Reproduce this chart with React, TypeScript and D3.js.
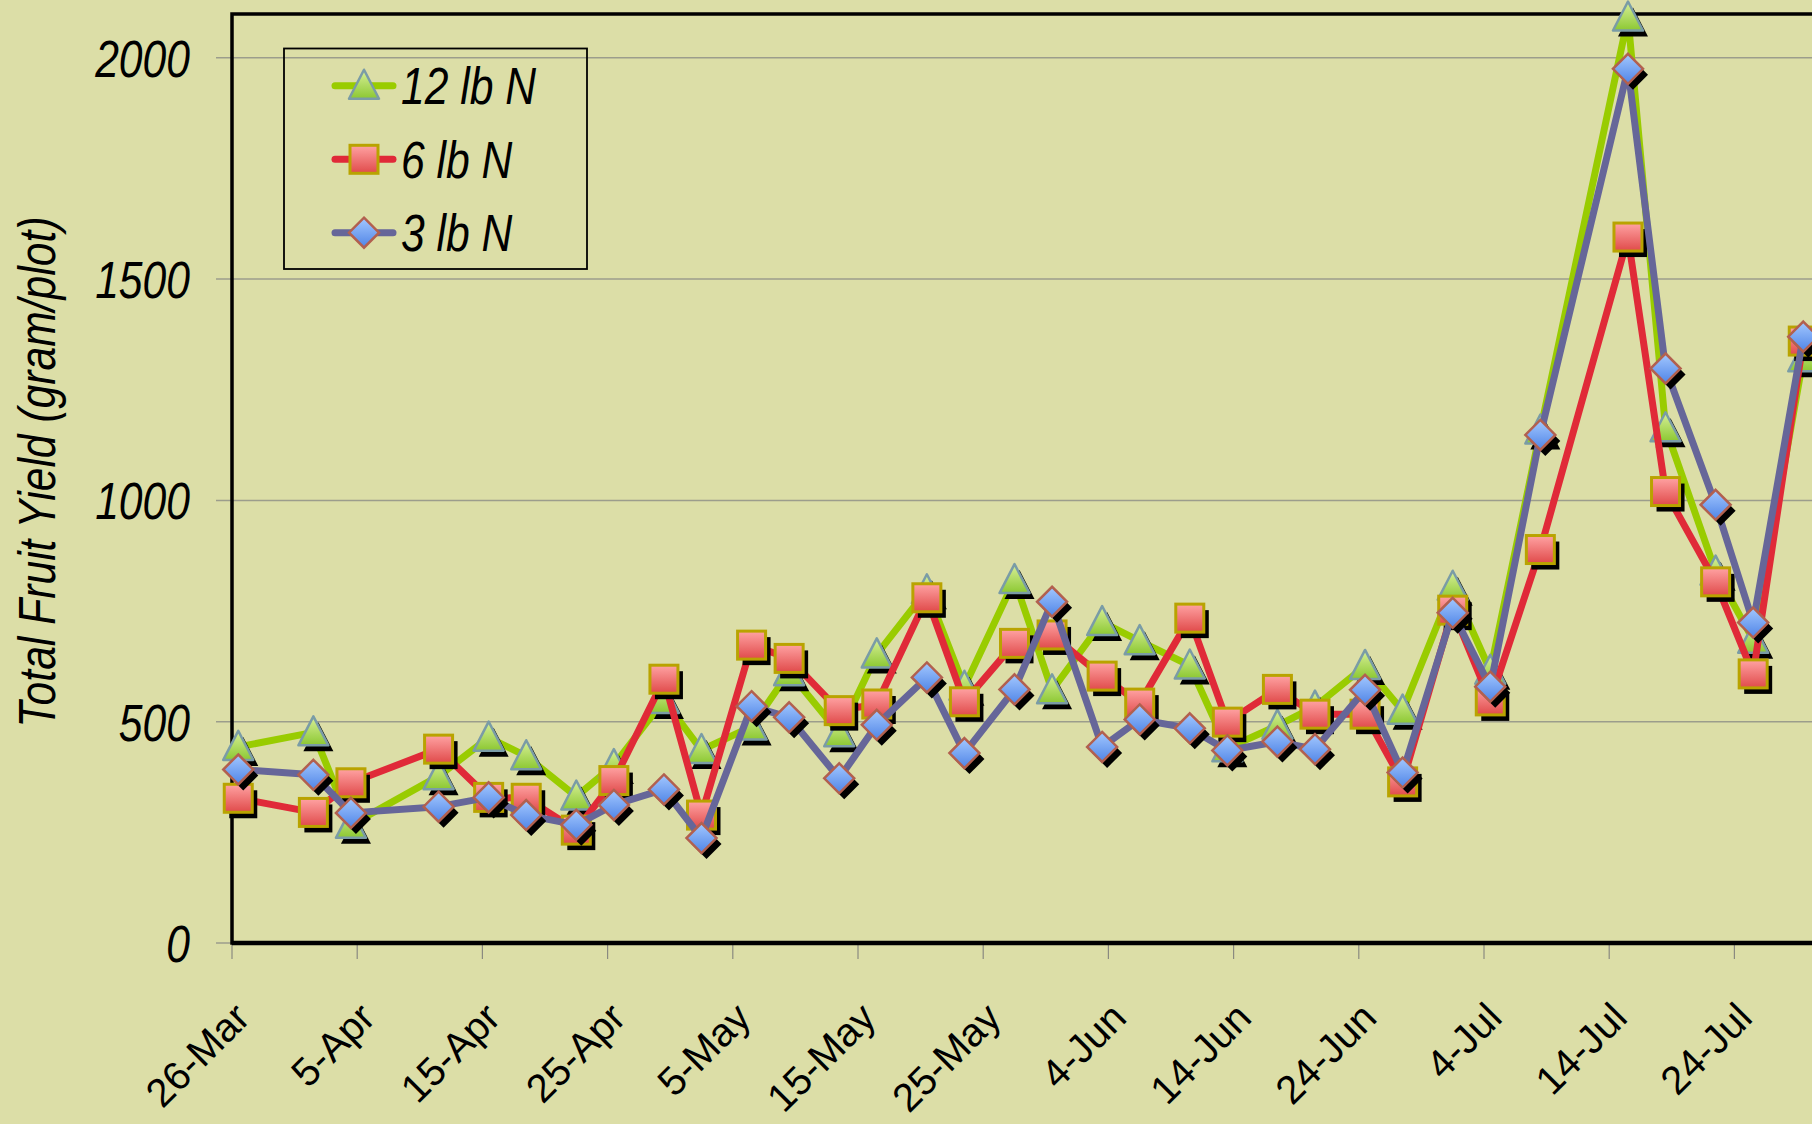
import { useEffect, useRef } from 'react';
import * as d3 from 'd3';

// harvest dates (plotted in the middle of each day, Excel date axis style)
const dates = [
  '2008-03-26', '2008-04-01', '2008-04-04', '2008-04-11', '2008-04-15', '2008-04-18',
  '2008-04-22', '2008-04-25', '2008-04-29', '2008-05-02', '2008-05-06', '2008-05-09',
  '2008-05-13', '2008-05-16', '2008-05-20', '2008-05-23', '2008-05-27', '2008-05-30',
  '2008-06-03', '2008-06-06', '2008-06-10', '2008-06-13', '2008-06-17', '2008-06-20',
  '2008-06-24', '2008-06-27', '2008-07-01', '2008-07-04', '2008-07-08', '2008-07-15',
  '2008-07-18', '2008-07-22', '2008-07-25', '2008-07-29',
];

const yield12 = [
  443, 476, 267, 377, 464, 422, 331, 402, 549, 436, 489, 612,
  474, 652, 797, 579, 820, 571, 725, 682, 627, 440, 491, 534,
  626, 525, 805, 615, 1158, 2091, 1163, 839, 685, 1321,
];
const yield6 = [
  327, 295, 362, 438, 329, 327, 255, 367, 596, 289, 673, 643,
  525, 540, 780, 545, 677, 696, 603, 542, 734, 499, 573, 517,
  517, 364, 752, 547, 889, 1595, 1020, 816, 608, 1360,
];
const yield3 = [
  392, 380, 294, 308, 329, 289, 267, 312, 347, 237, 535, 510,
  372, 493, 600, 429, 573, 771, 443, 505, 485, 435, 455, 438,
  572, 385, 746, 579, 1148, 1975, 1298, 990, 724, 1370,
];

const seriesNames = ['12 lb N', '6 lb N', '3 lb N'];
const yTicks = [0, 500, 1000, 1500, 2000];
const xTickDates = [
  '2008-03-26', '2008-04-05', '2008-04-15', '2008-04-25', '2008-05-05', '2008-05-15',
  '2008-05-25', '2008-06-04', '2008-06-14', '2008-06-24', '2008-07-04', '2008-07-14',
  '2008-07-24',
];

type Shape = 'triangle' | 'square' | 'diamond';

export default function App() {
  const ref = useRef<SVGSVGElement>(null);

  useEffect(() => {
    if (!ref.current) return;
    const svg = d3.select(ref.current);
    svg.selectAll('*').remove();

    const W = 1812;
    const H = 1124;
    const left = 232;
    const top = 14;
    const bottom = 943;
    const pxPerDay = 12.52;
    const bg = '#dcdea7';
    const narrow = 0.82;
    const font = "'Liberation Sans', Arial, sans-serif";

    const parse = d3.utcParse('%Y-%m-%d');
    const start = parse('2008-03-26') as Date;
    const end = d3.utcDay.offset(start, 130);

    const x = d3.scaleUtc().domain([start, end]).range([left, left + 130 * pxPerDay]);
    const y = d3.scaleLinear().domain([0, 2000]).range([bottom, 57.8]);
    const xMid = (s: string) => x(d3.utcHour.offset(parse(s) as Date, 12));

    svg.append('rect').attr('width', W).attr('height', H).attr('fill', bg);

    // gradients
    const defs = svg.append('defs');
    const grad = (id: string, c1: string, c2: string) => {
      const lg = defs.append('linearGradient').attr('id', id)
        .attr('x1', 0).attr('y1', 0).attr('x2', 0).attr('y2', 1);
      lg.append('stop').attr('offset', '0%').attr('stop-color', c1);
      lg.append('stop').attr('offset', '100%').attr('stop-color', c2);
    };
    grad('gTri', '#d9f09a', '#8cc832');
    grad('gSq', '#ffa3a3', '#e04a4a');
    grad('gDia', '#a3c8ff', '#4f84e6');

    // gridlines + y ticks
    svg.append('g').selectAll('line').data(yTicks).join('line')
      .attr('x1', 216).attr('x2', W)
      .attr('y1', d => y(d)).attr('y2', d => y(d))
      .attr('stroke', '#9c9d8c').attr('stroke-width', 1.5);

    svg.append('g').selectAll('text').data(yTicks).join('text')
      .attr('transform', d => `translate(190,${y(d) + 19}) scale(${narrow},1)`)
      .attr('text-anchor', 'end')
      .attr('font-family', font).attr('font-style', 'italic').attr('font-size', 52)
      .attr('fill', '#000')
      .text(d => String(d));

    // x ticks and labels
    const fmt = d3.utcFormat('%-d-%b');
    const xt = svg.append('g');
    xTickDates.forEach(s => {
      const tx = x(parse(s) as Date);
      xt.append('line').attr('x1', tx).attr('x2', tx).attr('y1', bottom).attr('y2', bottom + 16)
        .attr('stroke', '#8a8a80').attr('stroke-width', 1.2);
      xt.append('text')
        .attr('transform', `translate(${tx + 20},1020) rotate(-45)`)
        .attr('text-anchor', 'end')
        .attr('font-family', font).attr('font-size', 40).attr('fill', '#000')
        .text(fmt(parse(s) as Date));
    });

    // y axis title
    svg.append('text')
      .attr('transform', `translate(55,472) rotate(-90) scale(${narrow},1)`)
      .attr('text-anchor', 'middle')
      .attr('font-family', font).attr('font-style', 'italic').attr('font-size', 52)
      .attr('fill', '#000')
      .text('Total Fruit Yield (gram/plot)');

    // plot frame
    svg.append('rect').attr('x', left).attr('y', top).attr('width', W).attr('height', bottom - top)
      .attr('fill', 'none').attr('stroke', '#000').attr('stroke-width', 3.5);
    svg.append('line').attr('x1', left).attr('x2', W).attr('y1', bottom).attr('y2', bottom)
      .attr('stroke', '#000').attr('stroke-width', 4.5);

    const drawMarker = (g: any, shape: Shape, cx: number, cy: number, shadow: boolean) => {
      let el;
      if (shape === 'square') {
        el = g.append('rect').attr('x', cx - 14).attr('y', cy - 14).attr('width', 28).attr('height', 28);
      } else if (shape === 'triangle') {
        el = g.append('path').attr('d', `M${cx},${cy - 16}L${cx + 15},${cy + 13}L${cx - 15},${cy + 13}Z`);
      } else {
        el = g.append('path').attr('d', `M${cx},${cy - 15}L${cx + 15},${cy}L${cx},${cy + 15}L${cx - 15},${cy}Z`);
      }
      if (shadow) {
        el.attr('fill', '#000').attr('transform', 'translate(5,6)');
        return;
      }
      if (shape === 'square') el.attr('fill', 'url(#gSq)').attr('stroke', '#b9a300').attr('stroke-width', 3);
      if (shape === 'triangle') el.attr('fill', 'url(#gTri)').attr('stroke', '#7a9ca6').attr('stroke-width', 2.5)
        .attr('stroke-linejoin', 'round');
      if (shape === 'diamond') el.attr('fill', 'url(#gDia)').attr('stroke', '#b2604f').attr('stroke-width', 2.5);
    };

    const series = [
      { name: seriesNames[0], values: yield12, color: '#99cc00', shape: 'triangle' as Shape },
      { name: seriesNames[1], values: yield6, color: '#e02a38', shape: 'square' as Shape },
      { name: seriesNames[2], values: yield3, color: '#666699', shape: 'diamond' as Shape },
    ];

    const line = d3.line<number>()
      .x((_, i) => xMid(dates[i]))
      .y(d => y(d));

    series.forEach(s => {
      const g = svg.append('g');
      g.append('path').datum(s.values).attr('d', line)
        .attr('fill', 'none').attr('stroke', s.color).attr('stroke-width', 7)
        .attr('stroke-linejoin', 'round');
      s.values.forEach((v, i) => drawMarker(g, s.shape, xMid(dates[i]), y(v), true));
      s.values.forEach((v, i) => drawMarker(g, s.shape, xMid(dates[i]), y(v), false));
    });

    // legend
    const lg = svg.append('g');
    lg.append('rect').attr('x', 284).attr('y', 48.5).attr('width', 303).attr('height', 220.5)
      .attr('fill', 'none').attr('stroke', '#000').attr('stroke-width', 1.8);
    const rowY = [85.7, 159.3, 232.7];
    series.forEach((s, i) => {
      lg.append('line').attr('x1', 335).attr('x2', 393).attr('y1', rowY[i]).attr('y2', rowY[i])
        .attr('stroke', s.color).attr('stroke-width', 7).attr('stroke-linecap', 'round');
      drawMarker(lg, s.shape, 364, rowY[i], false);
      lg.append('text')
        .attr('transform', `translate(401,${rowY[i] + 18.5}) scale(${narrow},1)`)
        .attr('font-family', font).attr('font-style', 'italic').attr('font-size', 52)
        .attr('fill', '#000')
        .text(s.name);
    });
  }, []);

  return (
    <svg ref={ref} width={1812} height={1124}
      style={{ position: 'absolute', left: 0, top: 0, display: 'block' }} />
  );
}
